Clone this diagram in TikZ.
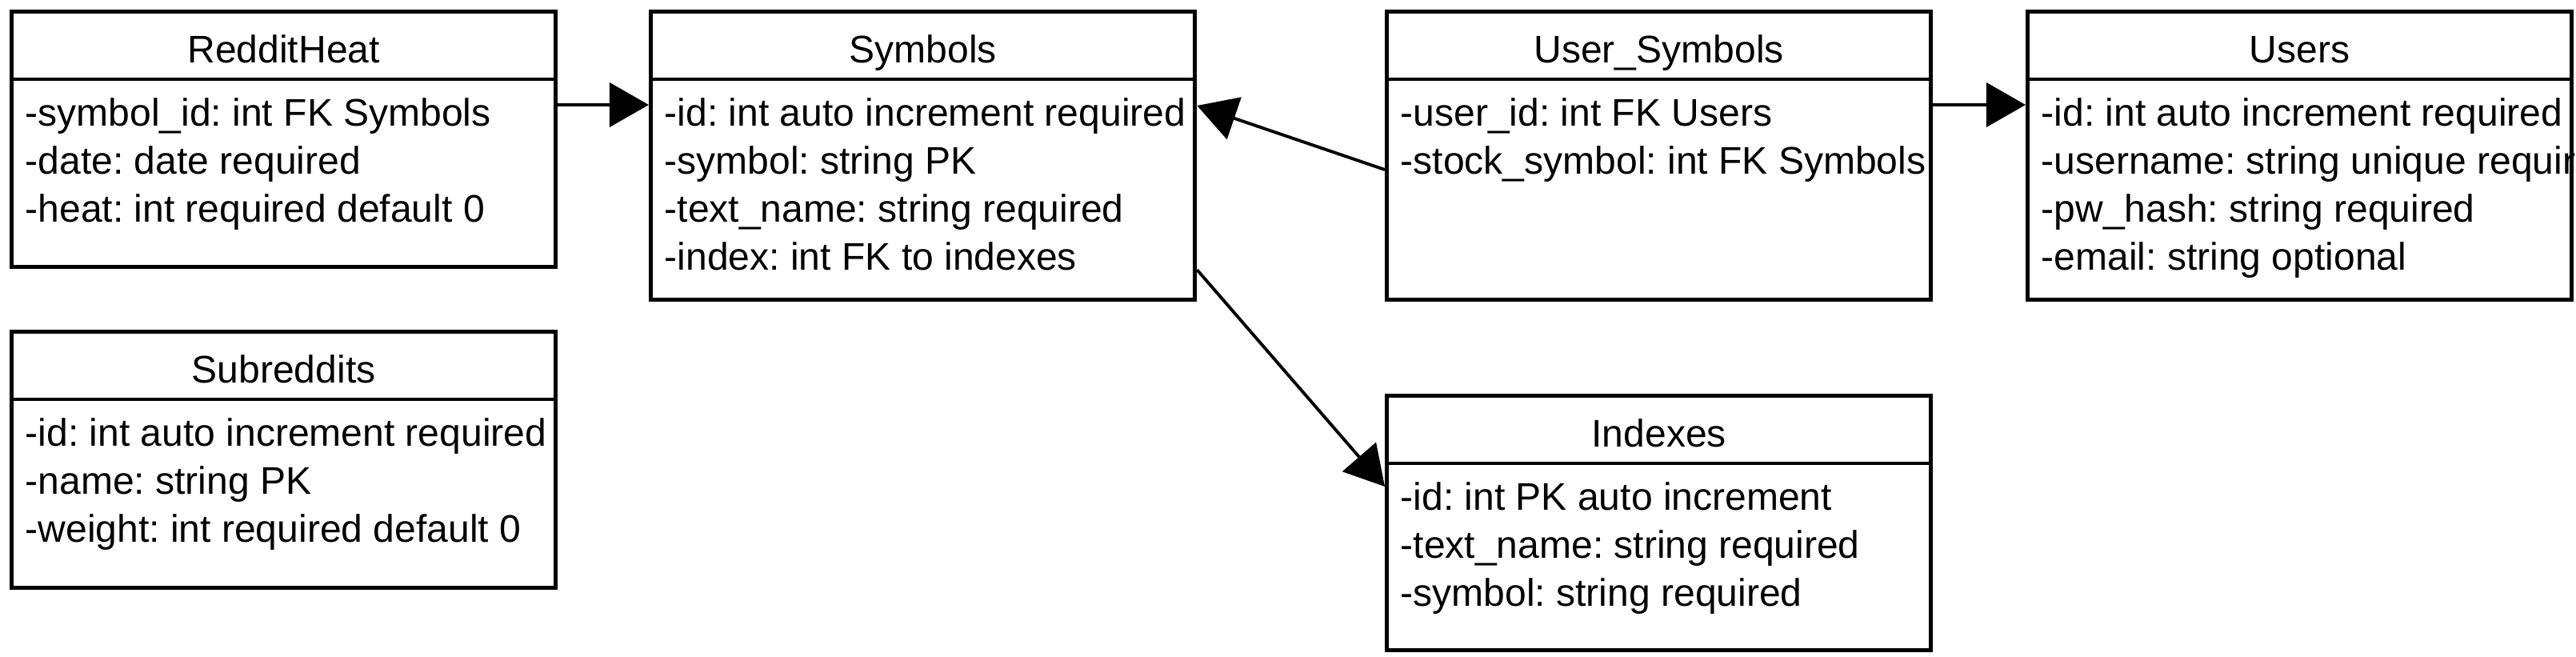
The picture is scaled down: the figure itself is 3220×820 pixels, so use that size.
\documentclass[tikz,border=0pt]{standalone}
\usepackage{fontspec}
\setmainfont{Liberation Sans}
\usetikzlibrary{arrows.meta}
\frenchspacing
\tikzset{
  tbl/.style={draw, line width=1.4pt, minimum width=6.8cm, anchor=north west, inner sep=0pt},
  ttl/.style={font=\fontsize{13.66pt}{16pt}\selectfont\frenchspacing, inner sep=0pt, anchor=base},
  rowtxt/.style={font=\fontsize{13.66pt}{16pt}\selectfont\frenchspacing, inner sep=0pt, anchor=base west},
  sepline/.style={line width=1.4pt},
  arr/.style={line width=1.1pt, -{Triangle[length=0.49cm,width=0.55cm]}}
}
\newcommand{\umlbox}[6]{%
  \node[tbl, minimum height=#4 cm] (#1) at (#2,#3) {};
  \node[ttl] (#1t) at ([shift={(0,66)}]#1.north) {#5};
  \draw[sepline] ([shift={(0,87)}]#1.north west) -- ([shift={(0,87)}]#1.north east);
  \foreach \r [count=\i from 0] in {#6} {
    \node[rowtxt] (#1r\i) at ([shift={(19,145+60*\i)}]#1.north west) {\r};
  }%
}
\begin{document}
\begin{tikzpicture}[x=0.01cm,y=-0.01cm]
\useasboundingbox (0,0) rectangle (3220,820);
\clip (0,0) rectangle (3220,820);
\umlbox{rh}{12}{12}{3.19}{RedditHeat}{-symbol\_id: int FK Symbols,-date: date required,-heat: int required default 0}
\umlbox{sym}{811}{12}{3.60}{Symbols}{-id: int auto increment required,-symbol: string PK,-text\_name: string required,-index: int FK to indexes}
\umlbox{us}{1731}{12}{3.60}{User\_Symbols}{-user\_id: int FK Users,-stock\_symbol: int FK Symbols}
\umlbox{users}{2532}{12}{3.60}{Users}{-id: int auto increment required,-username: string unique required,-pw\_hash: string required,-email: string optional}
\umlbox{sub}{12}{412}{3.20}{Subreddits}{-id: int auto increment required,-name: string PK,-weight: int required default 0}
\umlbox{idx}{1731}{492}{3.18}{Indexes}{-id: int PK auto increment,-text\_name: string required,-symbol: string required}
\draw[arr] ([shift={(0,119)}]rh.north east) -- ([shift={(0,119)}]sym.north west);
\draw[arr] ([shift={(0,119)}]us.north east) -- ([shift={(0,119)}]users.north west);
\draw[arr] ([shift={(0,200)}]us.north west) -- ([shift={(0,120)}]sym.north east);
\draw[arr] ([shift={(0,-40)}]sym.south east) -- ([shift={(0,116)}]idx.north west);
\end{tikzpicture}
\end{document}
